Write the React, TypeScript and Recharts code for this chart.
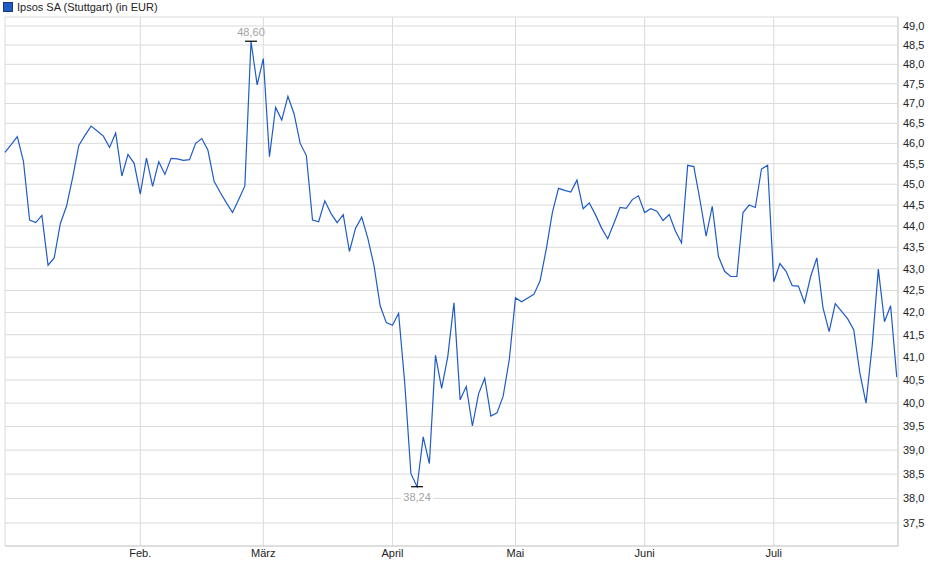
import { LineChart, Line, XAxis, YAxis, CartesianGrid, ReferenceDot } from 'recharts'

// Schlusskurse je Handelstag (2. Jan. bis 29. Juli)
const kurse = [
  45.78, 45.97, 46.17, 45.56, 44.14, 44.08, 44.25, 43.08, 43.25, 44.06,
  44.47, 45.16, 45.95, 46.2, 46.43, 46.31, 46.18, 45.9, 46.26, 45.2,
  45.73, 45.51, 44.76, 45.64, 44.95, 45.55, 45.24, 45.63, 45.62, 45.58,
  45.6, 46.0, 46.12, 45.83, 45.07, 44.8, 44.55, 44.32, 44.63, 44.96,
  48.6, 47.47, 48.15, 45.67, 46.9, 46.58, 47.18, 46.74, 46.0, 45.7,
  44.14, 44.1, 44.6, 44.3, 44.08, 44.27, 43.4, 43.95, 44.21, 43.71,
  43.07, 42.15, 41.77, 41.71, 41.98, 40.43, 38.51, 38.24, 39.28, 38.72,
  41.04, 40.32, 41.02, 42.22, 40.07, 40.36, 39.51, 40.2, 40.54, 39.72,
  39.79, 40.15, 40.95, 42.33, 42.24, 42.33, 42.41, 42.72, 43.45, 44.32,
  44.9, 44.85, 44.81, 45.1, 44.41, 44.55, 44.27, 43.95, 43.7, 44.06,
  44.44, 44.42, 44.63, 44.72, 44.32, 44.41, 44.35, 44.13, 44.27, 43.88,
  43.6, 45.46, 45.43, 44.62, 43.76, 44.47, 43.29, 42.94, 42.82, 42.82,
  44.32, 44.5, 44.44, 45.37, 45.46, 42.7, 43.12, 42.94, 42.61, 42.6,
  42.22, 42.82, 43.25, 42.11, 41.57, 42.2, 42.03, 41.86, 41.61, 40.65,
  40.0, 41.25, 42.99, 41.79, 42.15, 40.56,
]

// erster Handelstag des Monats (Index) und Beschriftung
const monatsIndex = [22, 42, 63, 83, 104, 125]
const monatsNamen = ['Feb.', 'März', 'April', 'Mai', 'Juni', 'Juli']

const kursTicks = [
  37.5, 38, 38.5, 39, 39.5, 40, 40.5, 41, 41.5, 42, 42.5, 43,
  43.5, 44, 44.5, 45, 45.5, 46, 46.5, 47, 47.5, 48, 48.5, 49,
]

const maxIndex = 40
const minIndex = 67

const daten = kurse.map((kurs, i) => ({ tag: i, kurs }))

const fmt = (v: number) => v.toFixed(2).replace('.', ',')

function Marke({ cx, cy, wert, unten }: { cx?: number; cy?: number; wert: number; unten?: boolean }) {
  if (cx == null || cy == null) return null
  const ty = unten ? cy + 14 : cy - 5
  return (
    <g>
      {unten && <rect x={cx - 16} y={cy + 4} width={32} height={13} fill="#fff" />}
      <line x1={cx - 6} x2={cx + 6} y1={cy} y2={cy} stroke="#000" strokeWidth={1.2} />
      <text x={cx} y={ty} textAnchor="middle" fontSize={11} fill="#a3a3a3">
        {fmt(wert)}
      </text>
    </g>
  )
}

export default function App() {
  return (
    <div style={{ position: 'absolute', left: 0, top: 0, width: 940, height: 579, background: '#fff', fontFamily: '"Liberation Sans", Arial, sans-serif' }}>
      <div style={{ position: 'absolute', left: 3, top: 1, display: 'flex', alignItems: 'center', fontSize: 11, color: '#222', lineHeight: '12px' }}>
        <span style={{ display: 'inline-block', width: 8, height: 8, background: '#1f5bc6', border: '1px solid #143a7a', marginRight: 4 }} />
        Ipsos SA (Stuttgart) (in EUR)
      </div>
      <LineChart width={940} height={579} data={daten} margin={{ top: 17, right: 0, left: 5, bottom: 0 }}>
        <CartesianGrid stroke="#dadada" strokeWidth={1} />
        <XAxis
          dataKey="tag"
          type="number"
          domain={[0, 145.2]}
          ticks={monatsIndex}
          tickFormatter={(v) => monatsNamen[monatsIndex.indexOf(v)] ?? ''}
          height={33}
          tickLine={false}
          tickSize={0}
          axisLine={{ stroke: '#cfcfcf' }}
          tick={{ fontSize: 11, fill: '#222' }}
          tickMargin={3}
        />
        <YAxis
          orientation="right"
          scale="log"
          domain={[37.039, 49.238]}
          ticks={kursTicks}
          allowDataOverflow
          width={42}
          tickLine={false}
          tickSize={0}
          tickMargin={5}
          axisLine={{ stroke: '#cfcfcf' }}
          tickFormatter={(v) => Number(v).toFixed(1).replace('.', ',')}
          tick={{ fontSize: 11, fill: '#222', textAnchor: 'start' }}
          interval={0}
        />
        <Line
          type="linear"
          dataKey="kurs"
          stroke="#1f5bc6"
          strokeWidth={1.2}
          dot={false}
          activeDot={false}
          isAnimationActive={false}
        />
        <ReferenceDot
          x={maxIndex}
          y={kurse[maxIndex]}
          r={0}
          shape={(p: any) => <Marke cx={p.cx} cy={p.cy} wert={kurse[maxIndex]} />}
        />
        <ReferenceDot
          x={minIndex}
          y={kurse[minIndex]}
          r={0}
          shape={(p: any) => <Marke cx={p.cx} cy={p.cy} wert={kurse[minIndex]} unten />}
        />
      </LineChart>
    </div>
  )
}
